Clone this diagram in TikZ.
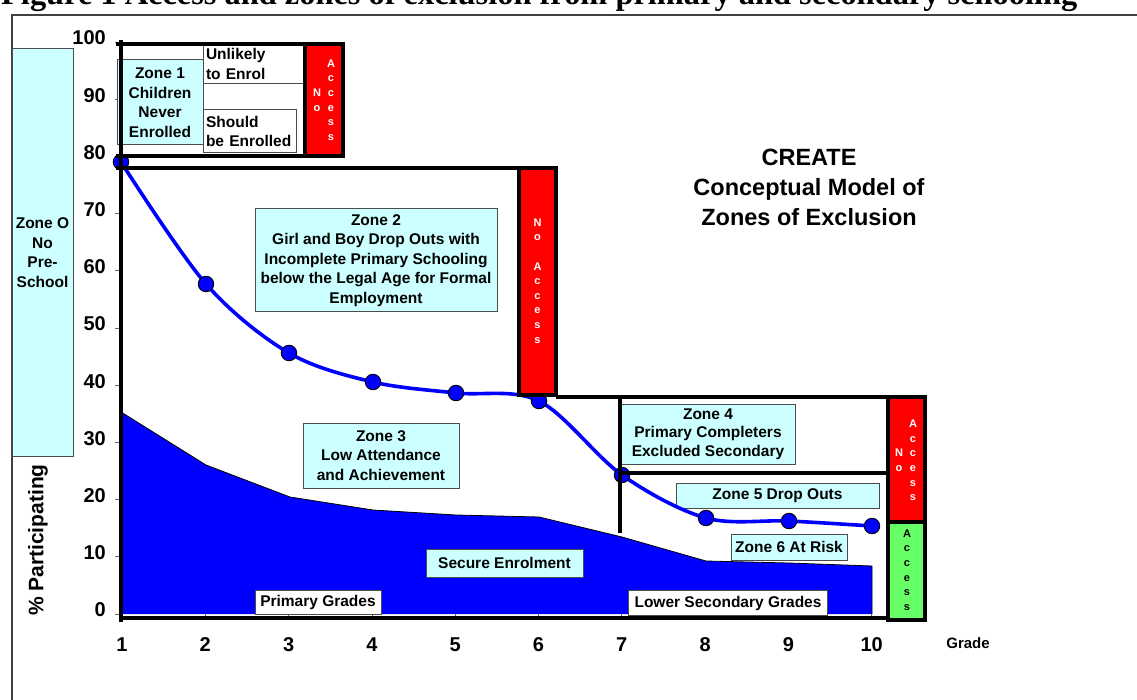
\documentclass[tikz,border=0pt]{standalone}
\usepackage{fontspec}
\setmainfont{Liberation Sans}
\newfontfamily\titlefont{Liberation Serif}
\definecolor{zcyan}{HTML}{CCFFFF}
\definecolor{zred}{HTML}{FF0000}
\definecolor{zgreen}{HTML}{66FF66}
\definecolor{zblue}{HTML}{0000FF}
\definecolor{framegray}{HTML}{404040}
\tikzset{
  zonebox/.style={draw=black!70, line width=1pt, fill=zcyan, font=\bfseries\fontsize{15.5}{19.5}\selectfont, align=center, inner sep=0pt},
  whitebox/.style={draw=black!70, line width=1pt, fill=white, font=\bfseries\fontsize{15.5}{19.5}\selectfont, inner sep=0pt},
  bar/.style={line width=4.2pt},
  noacc/.style={draw=black, line width=4pt, fill=zred, inner sep=0pt},
  yesacc/.style={draw=black, line width=4pt, fill=zgreen, inner sep=0pt},
  lett/.style={font=\bfseries\fontsize{11}{14.6}\selectfont, align=center, inner sep=0pt, text=white},
  ticklab/.style={font=\bfseries\fontsize{20}{20}\selectfont, inner sep=0pt},
  dot/.style={circle, fill=zblue, draw=black, line width=0.9pt, minimum size=15.5pt, inner sep=0pt},
  tickmark/.style={draw=black!60, line width=0.8pt}
}
\begin{document}
\begin{tikzpicture}[x=1pt,y=-1pt]
\useasboundingbox (0,0) rectangle (1137,700);
% title
\node[anchor=base west, inner sep=0pt, font=\titlefont\bfseries\fontsize{32.4}{32.4}\selectfont] (title) at (1,5) {Figure 1 Access and zones of exclusion from primary and secondary schooling};
% frame
\draw[framegray, line width=1.4pt] (12,710) -- (12,15) -- (1150,15);
% Zone O
\node[zonebox, minimum width=61pt, minimum height=407pt] (z0) at (42.5,252.5) {Zone O\\No\\Pre-\\School};
% axis label
\node[rotate=90, font=\bfseries\fontsize{21}{21}\selectfont, inner sep=0pt] (ylab) at (38,540) {\% Participating};
% y tick labels and marks
\foreach \v in {0,10,...,100}{
  \node[ticklab, anchor=east] (yl\v) at (106,{614-5.72*\v-4}) {\v};
  \draw[tickmark] (115,{614-5.72*\v}) -- (121,{614-5.72*\v});
}
% x tick labels
\foreach \g in {1,...,10}{
  \node[ticklab] (xl\g) at ({122+83.3*(\g-1)},645) {\g};
  \draw[tickmark] ({122+83.3*(\g-1)},611) -- ({122+83.3*(\g-1)},618);
}
\node[font=\bfseries\fontsize{15}{15}\selectfont, inner sep=0pt] (xlab) at (968,643) {Grade};
% secure enrolment area
\fill[zblue] (121,614) -- (121,412) -- (206,465) -- (290,497) -- (373,510) -- (456,515) -- (539,517) -- (622,537) -- (706,561) -- (789,563) -- (872,566) -- (872,614) -- cycle;
\draw[black, line width=0.8pt] (121,412) -- (206,465) -- (290,497) -- (373,510) -- (456,515) -- (539,517) -- (622,537) -- (706,561) -- (789,563) -- (872,566) -- (872,614);
% zone boxes
\node[zonebox, minimum width=86pt, minimum height=85pt] (z1) at (160,102.5) {Zone 1\\Children\\Never\\Enrolled};
\node[whitebox, minimum width=100pt, minimum height=40pt, align=left, text width=94pt] (unl) at (253,64) {Unlikely\\to Enrol};
\node[whitebox, minimum width=93pt, minimum height=43pt, align=left, text width=87pt] (shd) at (249.5,131.5) {Should\\be Enrolled};
\node[zonebox, minimum width=242pt, minimum height=103pt] (z2) at (376,260.5) {Zone 2\\Girl and Boy Drop Outs with\\Incomplete Primary Schooling\\below the Legal Age for Formal\\Employment};
\node[zonebox, minimum width=156pt, minimum height=65pt] (z3) at (381,455.5) {Zone 3\\Low Attendance\\and Achievement};
\node[zonebox, minimum width=174pt, minimum height=60pt, font=\bfseries\fontsize{15.5}{18.5}\selectfont] (z4) at (708,434) {Zone 4\\Primary Completers\\Excluded Secondary};
\node[zonebox, minimum width=203pt, minimum height=25pt] (z5) at (777.5,495.5) {Zone 5 Drop Outs};
\node[zonebox, minimum width=116pt, minimum height=26pt] (z6) at (789,547) {Zone 6 At Risk};
\node[zonebox, minimum width=157pt, minimum height=28pt] (sec) at (504.5,563) {Secure Enrolment};
\node[whitebox, minimum width=126pt, minimum height=24pt] (prim) at (318,602) {Primary Grades};
\node[whitebox, minimum width=199pt, minimum height=25pt] (lows) at (728,603) {Lower Secondary Grades};
% participation curve
\draw[zblue, line width=3.6pt] plot[smooth, tension=0.55] coordinates {(121,162) (206,284) (289,353) (373,382) (456,393) (539,401) (622,475) (706,518) (789,521) (872,526)};
\foreach \n/\px/\py in {1/121/162,2/206/284,3/289/353,4/373/382,5/456/393,6/539/401,7/622/475,8/706/518,9/789/521,10/872/526}{
  \node[dot] (d\n) at (\px,\py) {};
}
% axes and zone outlines
\draw[bar] (121,622) -- (121,40);
\draw[bar] (119,618) -- (888,618);
\draw[bar] (116,44) -- (305,44);
\draw[bar] (116,156) -- (305,156);
\draw[bar] (116,168) -- (519,168);
\draw[bar] (556,397) -- (888,397);
\draw[bar] (620,397) -- (620,533);
\draw[bar] (620,473) -- (888,473);
% access boxes
\node[noacc, minimum width=38pt, minimum height=112pt] (na1) at (324,100) {};
\node[lett] (na1a) at (317,100) {N\\o};
\node[lett] (na1b) at (331,100) {A\\c\\c\\e\\s\\s};
\node[noacc, minimum width=37pt, minimum height=227pt] (na2) at (537.5,281.5) {};
\node[lett] (na2a) at (537.5,281) {N\\o\\[14.6pt]A\\c\\c\\e\\s\\s};
\node[noacc, minimum width=37pt, minimum height=125pt] (na3) at (906.5,459.5) {};
\node[lett] (na3a) at (899,460.5) {N\\o};
\node[lett] (na3b) at (913,460.5) {A\\c\\c\\e\\s\\s};
\node[yesacc, minimum width=37pt, minimum height=98pt] (ac3) at (906.5,571) {};
\node[lett, text=black] (ac3a) at (907,570) {A\\c\\c\\e\\s\\s};
% model title
\node[font=\bfseries\fontsize{23.5}{30}\selectfont, align=center, inner sep=0pt] (model) at (809,187) {CREATE\\Conceptual Model of\\Zones of Exclusion};
\end{tikzpicture}
\end{document}
